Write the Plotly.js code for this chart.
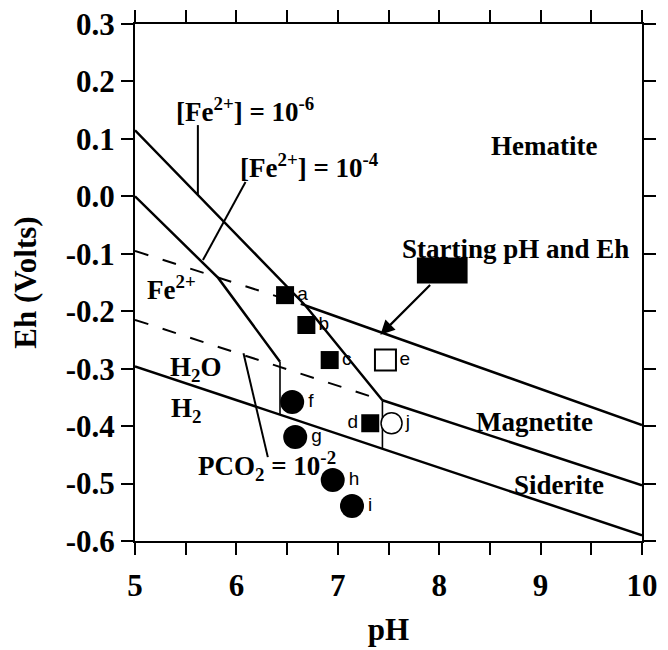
<!DOCTYPE html>
<html>
<head>
<meta charset="utf-8">
<script src="https://cdn.plot.ly/plotly-3.0.1.min.js"></script>
<style>html,body{margin:0;padding:0;background:#fff;}#chart{width:668px;height:650px;}</style>
</head>
<body>
<div id="chart"></div>
<script>
// ---- axis ticks ----
const xTickVals = [5, 6, 7, 8, 9, 10];
const xTickText = ['5', '6', '7', '8', '9', '10'];
const xMinorStep = 0.5;
const yTickVals = [0.3, 0.2, 0.1, 0.0, -0.1, -0.2, -0.3, -0.4, -0.5, -0.6];
const yTickText = ['0.3', '0.2', '0.1', '0.0', '-0.1', '-0.2', '-0.3', '-0.4', '-0.5', '-0.6'];

// ---- boundary lines (pH, Eh) ----
const fe6PH = [5.0, 6.68, 7.44];          // [Fe2+] = 1e-6 boundary
const fe6Eh = [0.115, -0.19, -0.355];
const fe6VertPH = [7.44, 7.44];
const fe6VertEh = [-0.355, -0.44];
const fe4PH = [5.0, 5.82, 6.43];          // [Fe2+] = 1e-4 boundary
const fe4Eh = [0.0, -0.142, -0.288];
const fe4VertPH = [6.43, 6.43];
const fe4VertEh = [-0.288, -0.38];
const hemMagDashPH = [5.0, 6.68];          // hematite / magnetite (metastable)
const hemMagDashEh = [-0.095, -0.19];
const hemMagPH = [6.68, 10.0];
const hemMagEh = [-0.19, -0.398];
const magSidDashPH = [5.0, 7.44];          // magnetite / siderite (metastable)
const magSidDashEh = [-0.215, -0.355];
const magSidPH = [7.44, 10.0];
const magSidEh = [-0.355, -0.503];
const waterPH = [5.0, 10.0];               // H2O / H2
const waterEh = [-0.296, -0.59];

// pointer lines for labels
const ptr6PH = [5.62, 5.62];
const ptr6Eh = [0.124, 0.003];
const ptr4PH = [6.09, 5.67];
const ptr4Eh = [0.025, -0.111];
const ptrCO2PH = [6.07, 6.31];
const ptrCO2Eh = [-0.273, -0.454];

// ---- samples ----
const fillSqLabels = ['a', 'b', 'c', 'd'];
const fillSqPH = [6.48, 6.69, 6.92, 7.32];
const fillSqEh = [-0.172, -0.224, -0.285, -0.395];
const openSqLabels = ['e'];
const openSqPH = [7.47];
const openSqEh = [-0.285];
const fillCircLabels = ['f', 'g', 'h', 'i'];
const fillCircPH = [6.55, 6.58, 6.95, 7.14];
const fillCircEh = [-0.358, -0.419, -0.494, -0.539];
const openCircLabels = ['j'];
const openCircPH = [7.53];
const openCircEh = [-0.395];

// starting condition
const startPH = [7.78, 8.28];
const startEh = [-0.129, -0.129];
const arrowTail = {pH: 7.94, Eh: -0.149};
const arrowHead = {pH: 7.42, Eh: -0.241};

// ---- helpers ----
const SERIF = 'Liberation Serif, Times New Roman, serif';
const SANS = 'Liberation Sans, Arial, sans-serif';
function line(x, y, opts) {
  return {
    x: x, y: y, mode: 'lines', type: 'scatter', hoverinfo: 'skip',
    line: Object.assign({color: '#000', width: 2.5}, opts || {})
  };
}
const dash = '14px,15px';

const traces = [
  line(fe6PH, fe6Eh),
  line(fe6VertPH, fe6VertEh, {width: 1.6}),
  line(fe4PH, fe4Eh),
  line(fe4VertPH, fe4VertEh, {width: 1.6}),
  line(hemMagDashPH, hemMagDashEh, {dash: dash, width: 2}),
  line(hemMagPH, hemMagEh),
  line(magSidDashPH, magSidDashEh, {dash: dash, width: 2}),
  line(magSidPH, magSidEh),
  line(waterPH, waterEh),
  line(ptr6PH, ptr6Eh, {width: 2}),
  line(ptr4PH, ptr4Eh, {width: 2}),
  line(ptrCO2PH, ptrCO2Eh, {width: 2}),
  line(startPH, startEh, {width: 26}),
  {
    x: fillSqPH, y: fillSqEh, text: fillSqLabels, type: 'scatter', mode: 'markers+text',
    marker: {symbol: 'square', size: 18, color: '#000'},
    textposition: ['middle right', 'middle right', 'middle right', 'middle left'],
    textfont: {family: SANS, size: 19, color: '#000'}, cliponaxis: false
  },
  {
    x: openSqPH, y: openSqEh, text: openSqLabels, type: 'scatter', mode: 'markers+text',
    marker: {symbol: 'square', size: 21, color: '#fff', line: {color: '#000', width: 2}},
    textposition: 'middle right',
    textfont: {family: SANS, size: 19, color: '#000'}
  },
  {
    x: fillCircPH, y: fillCircEh, text: fillCircLabels, type: 'scatter', mode: 'markers+text',
    marker: {symbol: 'circle', size: 24, color: '#000'},
    textposition: 'middle right',
    textfont: {family: SANS, size: 19, color: '#000'}
  },
  {
    x: openCircPH, y: openCircEh, text: openCircLabels, type: 'scatter', mode: 'markers+text',
    marker: {symbol: 'circle', size: 21, color: '#fff', line: {color: '#000', width: 1.5}},
    textposition: 'middle right',
    textfont: {family: SANS, size: 19, color: '#000'}
  }
];

const labFont = {family: SERIF, size: 27, color: '#000', weight: 'bold'};
function lab(text, x, y) {
  return {text: text, x: x, y: y, xref: 'x', yref: 'y', showarrow: false,
    font: labFont, xanchor: 'center', yanchor: 'middle'};
}

const annotations = [
  lab('[Fe<sup>2+</sup>] = 10<sup>-6</sup>', 6.08, 0.150),
  lab('[Fe<sup>2+</sup>] = 10<sup>-4</sup>', 6.72, 0.053),
  lab('Hematite', 9.03, 0.088),
  lab('Starting pH and Eh', 8.75, -0.092),
  lab('Fe<sup>2+</sup>', 5.36, -0.160),
  lab('H<sub>2</sub>O', 5.60, -0.300),
  lab('H<sub>2</sub>', 5.50, -0.372),
  lab('Magnetite', 8.94, -0.393),
  lab('Siderite', 9.18, -0.503),
  lab('PCO<sub>2</sub> = 10<sup>-2</sup>', 6.30, -0.470),
  {
    x: arrowHead.pH, y: arrowHead.Eh, ax: arrowTail.pH, ay: arrowTail.Eh,
    xref: 'x', yref: 'y', axref: 'x', ayref: 'y', text: ' ', showarrow: true,
    arrowhead: 2, arrowsize: 1.3, arrowwidth: 2.2, arrowcolor: '#000'
  }
];

const axisFont = {family: SERIF, size: 31, color: '#000', weight: 'bold'};
const layout = {
  width: 668, height: 650,
  margin: {l: 135, r: 26, t: 24, b: 109},
  paper_bgcolor: '#fff', plot_bgcolor: '#fff',
  showlegend: false,
  xaxis: {
    range: [5, 10], tickvals: xTickVals, ticktext: xTickText,
    ticks: 'outside', ticklen: 12, tickwidth: 2, tickcolor: '#000',
    minor: {dtick: xMinorStep, ticks: 'outside', ticklen: 12, tickwidth: 2, tickcolor: '#000'},
    showline: true, linewidth: 2, linecolor: '#000', mirror: 'ticks',
    showgrid: false, zeroline: false, tickfont: axisFont, ticklabelstandoff: 4,
    title: {text: 'pH', font: axisFont, standoff: 16}, automargin: false
  },
  yaxis: {
    range: [-0.6, 0.3], tickvals: yTickVals, ticktext: yTickText,
    ticks: 'outside', ticklen: 12, tickwidth: 2, tickcolor: '#000',
    showline: true, linewidth: 2, linecolor: '#000', mirror: 'ticks',
    showgrid: false, zeroline: false, tickfont: axisFont,
    title: {text: 'Eh (Volts)', font: axisFont, standoff: 20}, automargin: false
  },
  annotations: annotations
};

Plotly.newPlot('chart', traces, layout, {staticPlot: true, displayModeBar: false});
</script>
</body>
</html>
